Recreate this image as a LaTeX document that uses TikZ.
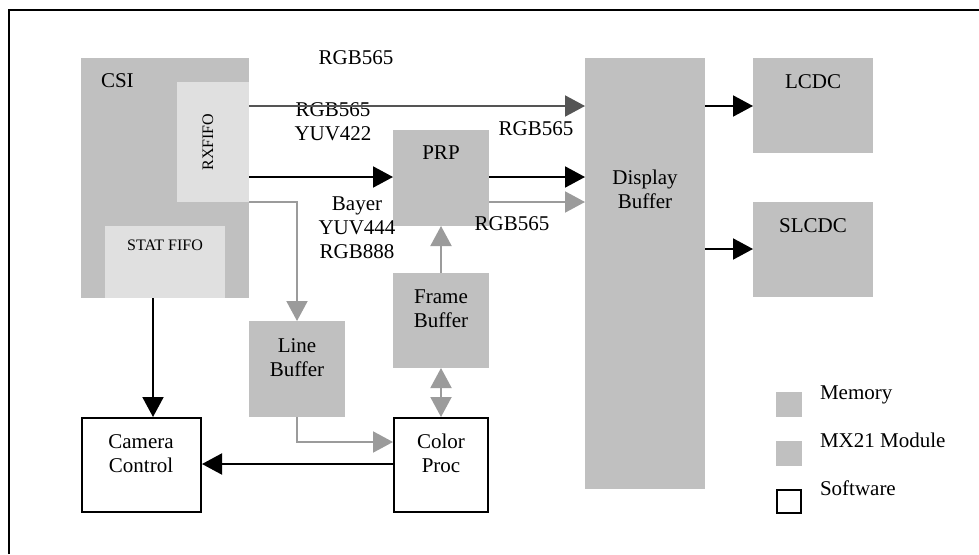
\documentclass[tikz,border=0pt]{standalone}
\usepackage{fontspec}
\setmainfont{Liberation Serif}
\usetikzlibrary{arrows.meta}
\definecolor{boxgray}{RGB}{192,192,192}
\definecolor{lightgray}{RGB}{224,224,224}
\definecolor{arrgray}{RGB}{155,155,155}
\definecolor{darkarr}{RGB}{85,85,85}
\tikzset{
  every node/.style={font=\fontsize{21}{24}\selectfont, inner sep=0pt, outer sep=0pt},
  fillbox/.style={fill=boxgray, draw=none, anchor=north west},
  lightbox/.style={fill=lightgray, draw=none, anchor=north west},
  swbox/.style={fill=white, draw=black, line width=2pt, anchor=north west},
  txt/.style={anchor=base, align=center},
  small/.style={font=\fontsize{16}{19}\selectfont},
  blk/.style={draw=black, line width=2pt, -{Triangle[length=20pt,width=21pt]}},
  gry/.style={draw=arrgray, line width=2pt, -{Triangle[length=20pt,width=21pt]}},
  dgry/.style={draw=darkarr, line width=2pt, -{Triangle[length=20pt,width=21pt]}},
}
\begin{document}
\begin{tikzpicture}[x=1pt,y=-1pt]
\useasboundingbox (0,0) rectangle (979,554);
% outer frame (only left and top visible)
\draw[line width=2pt] (9,554) -- (9,10) -- (979,10);
% CSI block
\node[fillbox, minimum width=168pt, minimum height=240pt] (csi) at (81,58) {};
\node[anchor=base west] (csil) at (101,87) {CSI};
\node[lightbox, minimum width=72pt, minimum height=120pt] (rx) at (177,82) {};
\node[small, rotate=90] (rxl) at (208,142) {RXFIFO};
\node[lightbox, minimum width=120pt, minimum height=72pt] (stat) at (105,226) {};
\node[small, anchor=base] (statl) at (165,250) {STAT FIFO};
% software boxes
\node[swbox, minimum width=119pt, minimum height=94pt] (cam) at (82,418) {};
\node[txt] (caml) at (141,472) {Camera\\Control};
\node[swbox, minimum width=94pt, minimum height=94pt] (cp) at (394,418) {};
\node[txt] (cpl) at (441,472) {Color\\Proc};
% memory/module boxes
\node[fillbox, minimum width=96pt, minimum height=96pt] (lb) at (249,321) {};
\node[txt] (lbl) at (297,376) {Line\\Buffer};
\node[fillbox, minimum width=96pt, minimum height=95pt] (fb) at (393,273) {};
\node[txt] (fbl) at (441,327) {Frame\\Buffer};
\node[fillbox, minimum width=96pt, minimum height=96pt] (prp) at (393,130) {};
\node[txt] (prpl) at (441,159) {PRP};
\node[fillbox, minimum width=120pt, minimum height=431pt] (db) at (585,58) {};
\node[txt, font=\fontsize{21}{23.5}\selectfont] (dbl) at (645,208) {Display\\Buffer};
\node[fillbox, minimum width=120pt, minimum height=95pt] (lcdc) at (753,58) {};
\node[txt] (lcdcl) at (813,88) {LCDC};
\node[fillbox, minimum width=120pt, minimum height=95pt] (slcdc) at (753,202) {};
\node[txt] (slcdcl) at (813,232) {SLCDC};
% labels
\node[txt] (l1) at (356,64) {RGB565};
\node[txt] (l2) at (333,140) {RGB565\\YUV422};
\node[txt] (l3) at (536,135) {RGB565};
\node[txt] (l4) at (357,258) {Bayer\\YUV444\\RGB888};
\node[txt] (l5) at (512,230) {RGB565};
% coordinates
\coordinate (rxa) at (249,106);
\coordinate (dba) at (585,106);
\coordinate (rxb) at (249,177);
\coordinate (rxc) at (249,202);
\coordinate (lbt) at (297,321);
\coordinate (lbb) at (297,417);
\coordinate (cpw) at (393,442);
\coordinate (cpw2) at (393,464);
\coordinate (camE) at (202,464);
\coordinate (statb) at (153,298);
\coordinate (camt) at (153,417);
% connectors
\draw[dgry] (rxa) -- (dba);
\draw[blk] (rxb) -- (prp.west |- rxb);
\draw[blk] (prp.east |- rxb) -- (db.west |- rxb);
\draw[gry] (prp.east |- rxc) -- (db.west |- rxc);
\draw[gry] (rxc) -- (lbt |- rxc) -- (lbt);
\draw[gry] (lbb) -- (lbb |- cpw) -- (cpw);
\draw[blk] (cpw2) -- (camE);
\draw[blk] (statb) -- (camt);
\draw[gry] (fb.north) -- (prp.south);
\draw[draw=arrgray, line width=2pt, {Triangle[length=20pt,width=21pt]}-{Triangle[length=20pt,width=21pt]}] (fb.south) -- (441,417);
\draw[blk] (db.east |- rxa) -- (lcdc.west |- rxa);
\draw[blk] (705,249) -- (slcdc.west |- 705,249);
% legend
\node[fillbox, minimum width=26pt, minimum height=25pt] (lgm) at (776,392) {};
\node[anchor=base west] (lgml) at (820,399) {Memory};
\node[fillbox, minimum width=26pt, minimum height=25pt] (lgx) at (776,441) {};
\node[anchor=base west] (lgxl) at (820,447) {MX21 Module};
\node[swbox, line width=1.6pt, minimum width=24pt, minimum height=23pt] (lgs) at (777,490) {};
\node[anchor=base west] (lgsl) at (820,495) {Software};
\end{tikzpicture}
\end{document}
